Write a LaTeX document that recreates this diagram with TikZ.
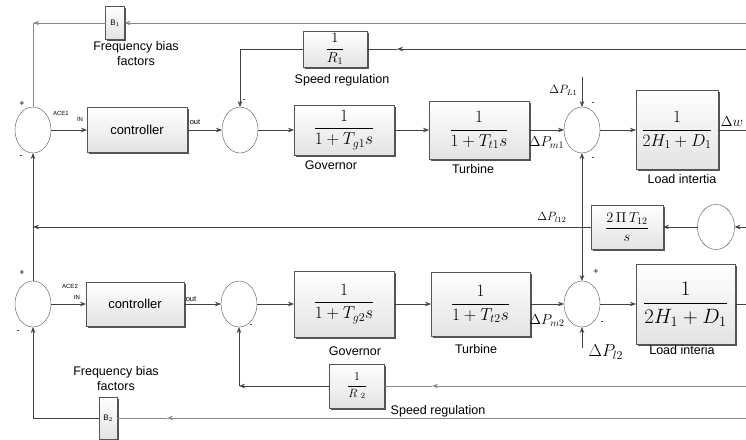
\documentclass[tikz,border=0pt]{standalone}
\usepackage{amsmath}
\usepackage[no-math]{fontspec}
\setsansfont{Liberation Sans}
\usetikzlibrary{shapes.geometric, arrows.meta, positioning, shadows}
\definecolor{wirecol}{RGB}{65, 65, 65}
\definecolor{wirelight}{RGB}{135, 135, 135}
\definecolor{boxedge}{RGB}{85, 85, 85}

\begin{document}
\begin{tikzpicture}[
    x=1pt, y=-1pt,
    blk/.style={rectangle, draw=boxedge, top color=white, bottom color=gray!22, drop shadow={shadow xshift=1.5pt, shadow yshift=-1.5pt, fill=gray!65!black, opacity=1}, inner sep=0pt, outer sep=0pt, align=center},
    sumnode/.style={ellipse, draw=boxedge, fill=white, minimum width=36pt, minimum height=46pt, inner sep=0pt, outer sep=0pt},
    arrow/.style={-{Stealth[length=6pt, width=4.5pt]}, wirecol, line width=0.7pt},
    wire/.style={wirecol, line width=0.7pt},
    pale/.style={wirelight},
    sig/.style={text=black},
    lbl/.style={font=\sffamily\fontsize{12.5}{15}\selectfont, align=center, inner sep=0pt},
    ctrltxt/.style={font=\sffamily\fontsize{13}{15}\selectfont},
    tag/.style={font=\sffamily\fontsize{6}{7}\selectfont, inner sep=0pt},
    sgn/.style={font=\sffamily\small, inner sep=0pt}
]
    \useasboundingbox (0,0) rectangle (746,439);
    \clip (0,0) rectangle (746,439);

    % area 1
    \node[sumnode] (sum1) at (33,130) {};
    \node[blk, ctrltxt, minimum width=100pt, minimum height=45pt, right=36pt of sum1] (ctrl1) {controller};
    \node[sumnode, right=35pt of ctrl1] (sum2) {};
    \node[blk, font=\LARGE, minimum width=100pt, minimum height=50pt, right=36pt of sum2] (gov1) {$\dfrac{1}{1+T_{g1}s}$};
    \node[blk, font=\LARGE, minimum width=100pt, minimum height=58pt, right=35pt of gov1] (turb1) {$\dfrac{1}{1+T_{t1}s}$};
    \node[sumnode, right=35pt of turb1] (sum3) {};
    \node[blk, font=\LARGE, minimum width=82pt, minimum height=79pt, right=36pt of sum3] (load1) {$\dfrac{1}{2H_1+D_1}$};
    \node[blk, font=\sffamily\footnotesize, minimum width=19pt, minimum height=33pt] (bias1) at (115,23) {B$_1$};
    \node[blk, font=\Large, minimum width=64pt, minimum height=36pt] (reg1) at (335,49) {$\dfrac{1}{R_1}$};

    \node[lbl] (fb1txt) at (136,54) {Frequency bias\\factors};
    \node[lbl] (reg1txt) at (342,80) {Speed regulation};
    \node[lbl] (gov1txt) at (331,165) {Governor};
    \node[lbl] (turb1txt) at (473,169) {Turbine};
    \node[lbl] (load1txt) at (682,179) {Load intertia};

    \node[tag] (ace1) at (61,113) {ACE1};
    \node[tag] (in1) at (80,119) {IN};
    \node[tag, font=\sffamily\fontsize{7.5}{9}\selectfont] (out1) at (195,122) {out};

    \node[sgn] (s1p) at (22,104) {+};
    \node[sgn] (s1m) at (21,157) {-};
    \node[sgn] (s2m) at (244,101) {-};
    \node[sgn] (s3a) at (593,104) {-};
    \node[sgn] (s3b) at (593,159) {-};

    % tie line
    \node[blk, font=\Large, minimum width=72pt, minimum height=44pt] (tie) at (627,227) {$\dfrac{2\,\Pi\,T_{12}}{s}$};
    \node[sumnode, minimum width=37pt, minimum height=45pt] (tiesum) at (716,227) {};

    % area 2
    \node[sumnode] (sum4) at (33,304) {};
    \node[blk, ctrltxt, minimum width=98pt, minimum height=44pt, right=35pt of sum4] (ctrl2) {controller};
    \node[sumnode, right=37pt of ctrl2] (sum5) {};
    \node[blk, font=\LARGE, minimum width=100pt, minimum height=66pt, right=37pt of sum5] (gov2) {$\dfrac{1}{1+T_{g2}s}$};
    \node[blk, font=\LARGE, minimum width=99pt, minimum height=64pt, right=37pt of gov2] (turb2) {$\dfrac{1}{1+T_{t2}s}$};
    \node[sumnode, right=34pt of turb2] (sum6) {};
    \node[blk, font=\huge, minimum width=99pt, minimum height=80pt, right=36pt of sum6] (load2) {$\dfrac{1}{2H_1+D_1}$};
    \node[blk, font=\large, minimum width=55pt, minimum height=44pt] (reg2) at (357,386) {$\dfrac{1}{R_{\;\,2}}$};
    \node[blk, font=\sffamily\footnotesize, minimum width=18pt, minimum height=42pt] (bias2) at (108,418) {B$_2$};

    \node[lbl] (fb2txt) at (116,379) {Frequency bias\\factors};
    \node[lbl] (reg2txt) at (438,411) {Speed regulation};
    \node[lbl] (gov2txt) at (355,351) {Governor};
    \node[lbl] (turb2txt) at (476,349) {Turbine};
    \node[lbl] (load2txt) at (682,350) {Load interia};

    \node[tag] (ace2) at (70,286) {ACE2};
    \node[tag] (in2) at (77,297) {IN};
    \node[tag, font=\sffamily\fontsize{7.5}{9}\selectfont] (out2) at (191,299) {out};

    \node[sgn] (s4p) at (22,273) {+};
    \node[sgn] (s4m) at (18,332) {-};
    \node[sgn] (s5m) at (251,326) {-};
    \node[sgn] (s6p) at (596,272) {+};
    \node[sgn] (s6m) at (602,323) {-};

    % area 1 wires
    \coordinate (fbin1) at (746,23);
    \coordinate (fbc1) at (33,23);
    \draw[arrow, pale] (fbin1) -- (bias1);
    \draw[arrow, pale] (bias1) -- (fbc1);
    \draw[wire, pale] (fbc1) -- (sum1);

    \draw[arrow] (sum1) -- (ctrl1);
    \draw[arrow] (ctrl1) -- (sum2);
    \draw[arrow] (sum2) -- (gov1);
    \draw[arrow] (gov1) -- (turb1);
    \draw[arrow] (turb1) -- node[sig, below=3pt, font=\Large] (dpm1) {$\Delta P_{m1}$} (sum3);
    \draw[arrow] (sum3) -- (load1);
    \coordinate (dwout) at (746,130);
    \draw[wire] (load1) -- node[sig, above, font=\Large] (dw) {$\Delta w$} (dwout);

    \coordinate (reg1in) at (746,49);
    \coordinate (reg1mid) at (397,49);
    \draw[arrow] (reg1in) -- (reg1mid);
    \draw[wire] (reg1mid) -- (reg1);
    \draw[arrow] (reg1) -| (sum2);

    \coordinate (pl1) at (582,77);
    \draw[arrow] (pl1) -- node[sig, left=1pt, pos=.45, font=\large] (dpl1) {$\Delta P_{L1}$} (sum3);

    % tie line wires
    \coordinate (tiein) at (746,227);
    \coordinate (tiej) at (582,227);
    \coordinate (tiec) at (33,227);
    \draw[arrow] (tiein) -- (tiesum);
    \draw[arrow] (tiesum) -- (tie);
    \draw[arrow] (tie) -- node[sig, pos=.07, above=1pt, font=\large] (dpl12) {$\Delta P_{l12}$} (tiec);
    \draw[arrow] (tiej) -- (sum3);
    \draw[arrow] (tiej) -- (sum6);
    \draw[arrow] (tiec) -- (sum1);
    \draw[wire] (tiec) -- (sum4);

    % area 2 wires
    \draw[arrow] (sum4) -- (ctrl2);
    \draw[arrow] (ctrl2) -- (sum5);
    \draw[arrow] (sum5) -- (gov2);
    \draw[arrow] (gov2) -- (turb2);
    \draw[arrow] (turb2) -- node[sig, below=7pt, font=\Large] (dpm2) {$\Delta P_{m2}$} (sum6);
    \draw[arrow] (sum6) -- (load2);
    \coordinate (l2out) at (746,304);
    \draw[wire] (load2) -- (l2out);

    \coordinate (pl2) at (582,348);
    \draw[arrow] (pl2) node[sig, right=3pt, yshift=-4pt, font=\LARGE] (dpl2) {$\Delta P_{l2}$} -- (sum6);

    \coordinate (reg2in) at (746,386);
    \coordinate (reg2mid) at (432,386);
    \coordinate (reg2c) at (239,386);
    \draw[arrow, pale] (reg2in) -- (reg2mid);
    \draw[wire, pale] (reg2mid) -- (reg2);
    \draw[arrow] (reg2) -- (reg2c);
    \draw[arrow] (reg2c) -- (sum5);

    \coordinate (fbin2) at (746,418);
    \coordinate (fbmid2) at (167,418);
    \draw[arrow, pale] (fbin2) -- (fbmid2);
    \draw[wire, pale] (fbmid2) -- (bias2);
    \draw[arrow] (bias2) -| (sum4);
\end{tikzpicture}
\end{document}
